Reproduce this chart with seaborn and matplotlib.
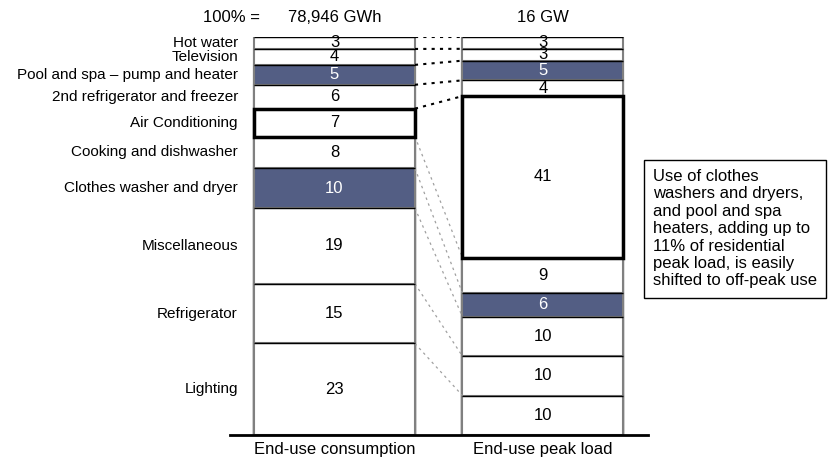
import numpy as np
import pandas as pd
import matplotlib
matplotlib.use('Agg')
import matplotlib.pyplot as plt
import seaborn as sns

# данные (снизу вверх)
categories = ['Lighting', 'Refrigerator', 'Miscellaneous', 'Clothes washer and dryer',
              'Cooking and dishwasher', 'Air Conditioning', '2nd refrigerator and freezer',
              'Pool and spa – pump and heater', 'Television', 'Hot water']
consumption = [23, 15, 19, 10, 8, 7, 6, 5, 4, 3]
peak_load = [10, 10, 10, 6, 9, 41, 4, 5, 3, 3]
bar_names = ['End-use consumption', 'End-use peak load']
totals = ['78,946 GWh', '16 GW']
shiftable = ['Clothes washer and dryer', 'Pool and spa – pump and heater']
highlight = 'Air Conditioning'
note = ('Use of clothes\nwashers and dryers,\nand pool and spa\nheaters, adding up to\n'
        '11% of residential\npeak load, is easily\nshifted to off-peak use')

BLUE = '#4B5A8C'
W = 0.772

sns.set_theme(style='white')
plt.rcParams['font.family'] = ['Liberation Sans', 'DejaVu Sans']
plt.rcParams['text.color'] = 'black'
plt.rcParams['xtick.color'] = 'black'
plt.rcParams['xtick.labelcolor'] = 'black'

series = [np.array(consumption, float), np.array(peak_load, float)]
tops = [np.cumsum(s) / s.sum() * 100 for s in series]
bottoms = [t - s / s.sum() * 100 for t, s in zip(tops, series)]

rows = []
for j, name in enumerate(bar_names):
    for i, cat in enumerate(categories):
        rows.append({'bar': name, 'category': cat, 'top': tops[j][i]})
df = pd.DataFrame(rows).sort_values('top', ascending=False)

fig = plt.figure(figsize=(8.31, 4.62), dpi=100)
ax = fig.add_axes([0.2768, 0.0584, 0.503, 0.8615])

palette = {c: (BLUE if c in shiftable else 'white') for c in categories}
sns.barplot(data=df, x='bar', y='top', hue='category', hue_order=categories[::-1],
            order=bar_names, palette=palette, dodge=False, width=W, errorbar=None,
            edgecolor='#808080', linewidth=1.5, legend=False, ax=ax)

for j in range(2):
    ax.hlines(tops[j], j - W / 2, j + W / 2, color='black', lw=1, zorder=3)
    for i, cat in enumerate(categories):
        mid = (tops[j][i] + bottoms[j][i]) / 2
        ax.text(j, mid, f'{series[j][i]:.0f}', ha='center', va='center', fontsize=12,
                color='white' if cat in shiftable else 'black', zorder=5)
        if cat == highlight:
            ax.bar(j, tops[j][i] - bottoms[j][i], bottom=bottoms[j][i], width=W,
                   fill=False, edgecolor='black', linewidth=2.5, zorder=4)

# названия категорий слева
for i, cat in enumerate(categories):
    mid = (tops[0][i] + bottoms[0][i]) / 2
    ax.text(-0.463, mid, cat, ha='right', va='center', fontsize=11, color='black')

# соединительные линии
for i in range(len(categories)):
    if i >= 5:
        kw = dict(color='black', lw=1.5, ls=(0, (1.5, 2.5)))
    else:
        kw = dict(color='#a0a0a0', lw=0.9, ls=(0, (2, 3)))
    ax.plot([W / 2, 1 - W / 2], [tops[0][i], tops[1][i]], zorder=1, **kw)

# заголовки
ax.text(-0.357, 105, '100% =', ha='right', va='center', fontsize=12, color='black')
for j in range(2):
    ax.text(j, 105, totals[j], ha='center', va='center', fontsize=12, color='black')

fig.text(0.786, 0.505, note, ha='left', va='center', fontsize=12, linespacing=1.2,
         color='black',
         bbox=dict(boxstyle='square,pad=0.55', fc='white', ec='black', lw=1))

ax.set_xlim(-0.501, 1.504)
ax.set_ylim(0, 100)
ax.set_xlabel('')
ax.set_ylabel('')
ax.set_yticks([])
ax.tick_params(axis='x', length=0, pad=5, labelsize=12, labelcolor='black')
for s in ['top', 'left', 'right']:
    ax.spines[s].set_visible(False)
ax.spines['bottom'].set_linewidth(2)
ax.spines['bottom'].set_color('black')
ax.patch.set_alpha(0)

fig.savefig('out.png', dpi=100)
